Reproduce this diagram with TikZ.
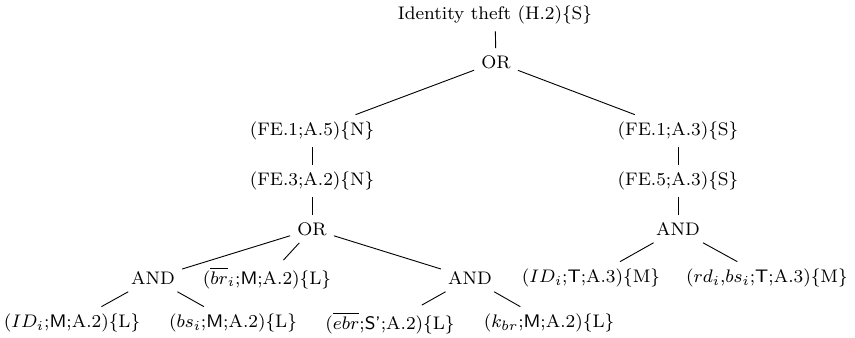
\documentclass[tikz,border=0pt]{standalone}
\usepackage{amsmath}
\begin{document}
\begin{tikzpicture}[x=0.44pt,y=-0.44pt,
  every node/.style={font=\footnotesize},
  lbl/.style={inner sep=3pt},
  link/.style={line width=0.4pt}]
\useasboundingbox (0,0) rectangle (855,337);
% root and first gate
\node[lbl] (root) at (495,15) {Identity theft (H.2)\{S\}};
\node[lbl] (or1) at (496,62) {OR};
% left branch
\node[lbl] (fe1) at (312,131) {(FE.1;A.5)\{N\}};
\node[lbl] (fe3) at (312,181) {(FE.3;A.2)\{N\}};
\node[lbl] (or2) at (312,229) {OR};
\node[lbl] (and1) at (153,278) {AND};
\node[lbl] (bri) at (267,278) {($\overline{br}_i$;\textsf{M};A.2)\{L\}};
\node[lbl] (and2) at (470,278) {AND};
\node[lbl] (idm) at (72,323) {($ID_i$;\textsf{M};A.2)\{L\}};
\node[lbl] (bs) at (233,323) {($bs_i$;\textsf{M};A.2)\{L\}};
\node[lbl] (ebr) at (390,323) {($\overline{ebr}$;\textsf{S'};A.2)\{L\}};
\node[lbl] (kbr) at (549,323) {($k_{br}$;\textsf{M};A.2)\{L\}};
% right branch
\node[lbl] (fe1b) at (678,131) {(FE.1;A.3)\{S\}};
\node[lbl] (fe5) at (678,181) {(FE.5;A.3)\{S\}};
\node[lbl] (and3) at (678,229) {AND};
\node[lbl] (idt) at (591,278) {($ID_i$;\textsf{T};A.3)\{M\}};
\node[lbl] (rd) at (767,278) {($rd_i$,$bs_i$;\textsf{T};A.3)\{M\}};
% connectors
\draw[link] (root) -- (or1);
\draw[link] (or1) -- (fe1);
\draw[link] (or1) -- (fe1b);
\draw[link] (fe1) -- (fe3);
\draw[link] (fe3) -- (or2);
\draw[link] (or2) -- (and1);
\draw[link] (or2) -- (bri);
\draw[link] (or2) -- (and2);
\draw[link] (and1) -- (idm);
\draw[link] (and1) -- (bs);
\draw[link] (and2) -- (ebr);
\draw[link] (and2) -- (kbr);
\draw[link] (fe1b) -- (fe5);
\draw[link] (fe5) -- (and3);
\draw[link] (and3) -- (idt);
\draw[link] (and3) -- (rd);
\end{tikzpicture}
\end{document}
